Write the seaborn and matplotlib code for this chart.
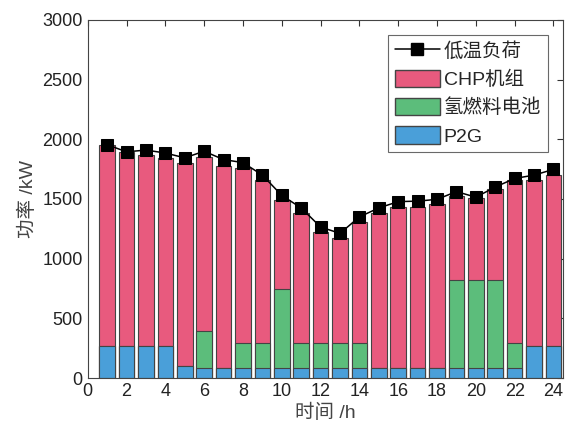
import numpy as np
import pandas as pd
import matplotlib
matplotlib.use("Agg")
import matplotlib.pyplot as plt
import seaborn as sns
from matplotlib.lines import Line2D
from matplotlib.patches import Patch

# hourly data (kW)
hours = list(range(1, 25))
load = [1955, 1895, 1910, 1885, 1845, 1900, 1830, 1805, 1700, 1530, 1425, 1265,
        1212, 1350, 1425, 1478, 1482, 1497, 1562, 1515, 1600, 1672, 1700, 1748]
chp = [1680, 1620, 1595, 1570, 1705, 1460, 1700, 1470, 1370, 740, 1090, 935,
       885, 1020, 1300, 1350, 1355, 1375, 705, 685, 760, 1370, 1390, 1430]
fuel_cell = [0, 0, 0, 0, 0, 315, 0, 210, 210, 670, 210, 210,
             210, 210, 0, 0, 0, 0, 740, 740, 740, 210, 0, 0]
p2g = [270, 270, 270, 270, 100, 80, 80, 80, 80, 80, 80, 80,
       80, 80, 80, 80, 80, 80, 80, 80, 80, 80, 270, 270]

labels = ["低温负荷", "CHP机组", "氢燃料电池", "P2G"]
colors = {"CHP": "#E85A7E", "FC": "#5CBD7B", "P2G": "#4A9FD9"}

df = pd.DataFrame({"hour": hours, "load": load, "chp": chp,
                   "fc": fuel_cell, "p2g": p2g})
# cumulative tops for the stacked look (drawn back to front)
df["top_fc"] = df["p2g"] + df["fc"]
df["top_chp"] = df["top_fc"] + df["chp"]

sns.set_style("white")
plt.rcParams["font.family"] = ["Liberation Sans", "Noto Sans CJK SC", "DejaVu Sans"]

fig = plt.figure(figsize=(5.66, 4.34), dpi=100)
ax = fig.add_axes([0.155, 0.129, 0.84, 0.825])

bar_kw = dict(native_scale=True, width=0.8, edgecolor="#444444", linewidth=0.8,
              errorbar=None, saturation=1, ax=ax)
sns.barplot(data=df, x="hour", y="top_chp", color=colors["CHP"], **bar_kw)
sns.barplot(data=df, x="hour", y="top_fc", color=colors["FC"], **bar_kw)
sns.barplot(data=df, x="hour", y="p2g", color=colors["P2G"], **bar_kw)

sns.lineplot(data=df, x="hour", y="load", color="black", linewidth=1.1,
             marker="s", markersize=8, markeredgecolor="black", ax=ax)

ax.set_xlim(0, 24.5)
ax.set_ylim(0, 3000)
ax.set_xticks(range(0, 25, 2))
ax.set_yticks(range(0, 3001, 500))
ax.tick_params(direction="in", top=True, right=True, length=4, width=0.8,
               labelsize=13, colors="#333333", labelcolor="#222222")
for s in ax.spines.values():
    s.set_color("#444444")
    s.set_linewidth(0.8)

ax.set_xlabel("时间 /h", fontsize=14, color="#444444", labelpad=3)
ax.set_ylabel("功率 /kW", fontsize=14, color="#444444")

handles = [
    Line2D([], [], color="black", marker="s", markersize=8, linewidth=1.1),
    Patch(facecolor=colors["CHP"], edgecolor="#444444"),
    Patch(facecolor=colors["FC"], edgecolor="#444444"),
    Patch(facecolor=colors["P2G"], edgecolor="#444444"),
]
leg = ax.legend(handles, labels, loc="upper right", bbox_to_anchor=(0.968, 0.958),
                fontsize=14, frameon=True, fancybox=False, handlelength=2.3,
                handleheight=1.0, handletextpad=0.2, labelspacing=0.45,
                borderpad=0.35, borderaxespad=0)
leg.get_frame().set_edgecolor("#444444")
leg.get_frame().set_linewidth(0.8)

plt.savefig("out.png", dpi=100)
plt.close()
